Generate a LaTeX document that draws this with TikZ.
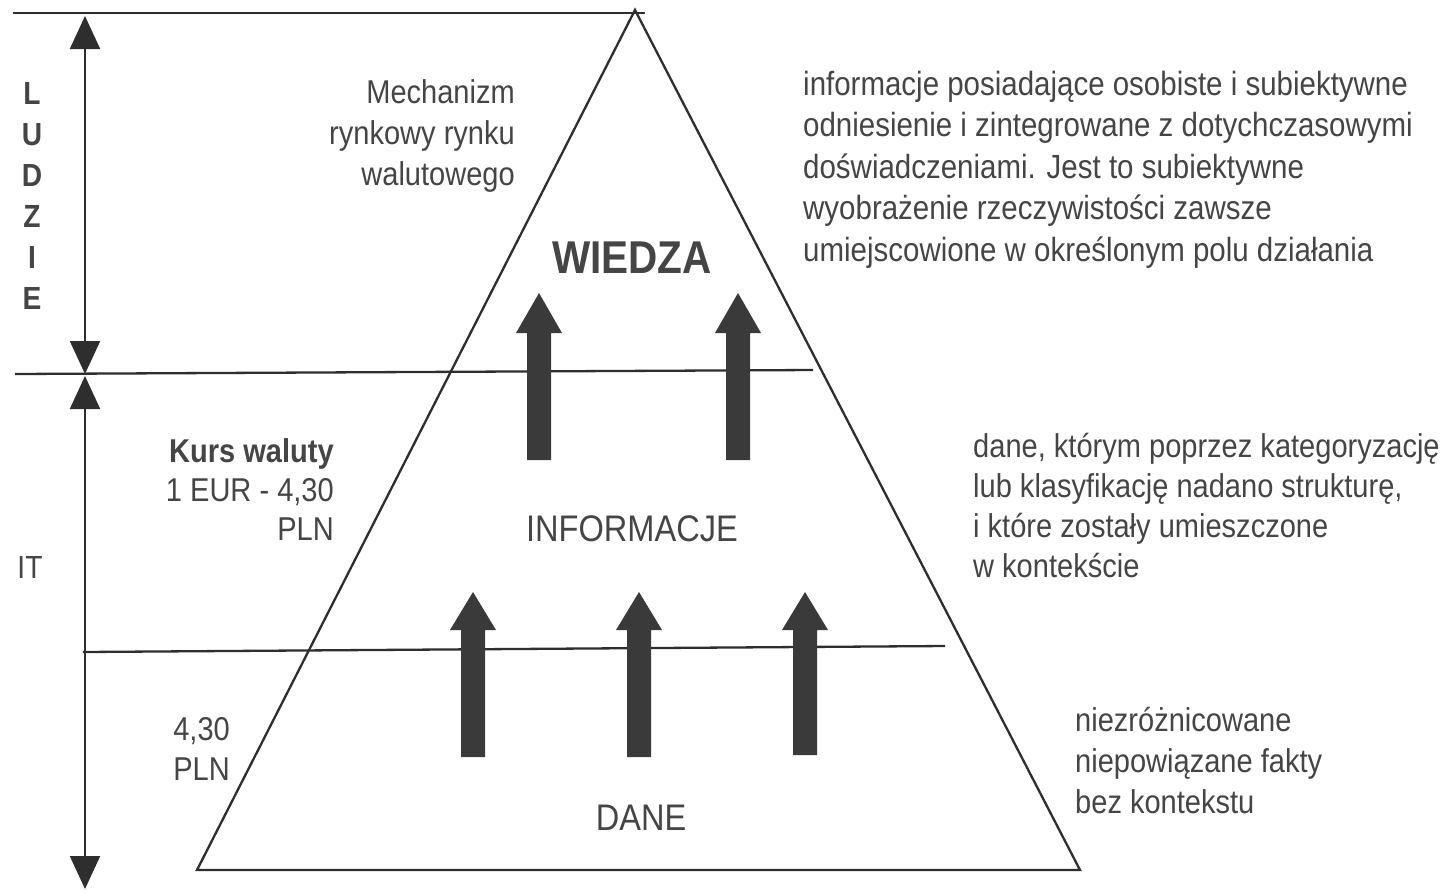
\documentclass[tikz,border=0pt]{standalone}
\usepackage{fontspec}
\setmainfont{Liberation Sans}[FakeStretch=0.88]
\usetikzlibrary{arrows.meta}
\definecolor{ink}{HTML}{2E2E2E}
\definecolor{txt}{HTML}{454545}
\definecolor{bigarrow}{HTML}{3A3A3A}
\tikzset{
  rule/.style={draw=ink, line width=2.3pt},
  dimline/.style={draw=ink, line width=2pt, {Triangle[width=30pt,length=33pt]}-{Triangle[width=30pt,length=33pt]}},
  txtR/.style={inner sep=0pt, text=txt, align=right, anchor=north east},
  txtL/.style={inner sep=0pt, text=txt, align=left, anchor=north west},
  lvl/.style={inner sep=0pt, text=txt, font=\fontsize{37}{40}\selectfont},
  uparrow/.style={fill=bigarrow, draw=none}
}
\begin{document}
\begin{tikzpicture}[x=1pt,y=-1pt]
\useasboundingbox (0,0) rectangle (1455,892);
\fill[white] (0,0) rectangle (1455,892);

% coordinates
\coordinate (apex) at (635,10);
\coordinate (bl) at (197,870);
\coordinate (br) at (1080,870);
\coordinate (t1) at (13,13);  \coordinate (t2) at (645,13);
\coordinate (m1) at (15,374); \coordinate (m2) at (813,370);
\coordinate (l1) at (83,652); \coordinate (l2) at (945,646);
\coordinate (a1) at (85,16);  \coordinate (a2) at (85,374);
\coordinate (b1) at (85,376); \coordinate (b2) at (85,889);

% pyramid and rules
\draw[rule, line join=miter] (apex) -- (br) -- (bl) -- cycle;
\draw[rule] (t1) -- (t2);
\draw[rule] (m1) -- (m2);
\draw[rule] (l1) -- (l2);

% dimension arrows
\draw[dimline] (a1) -- (a2);
\draw[dimline] (b1) -- (b2);

% big arrows
\foreach \cx/\ty/\hy/\by in {539/293/333/460, 738/293/333/460, 473/592/630/757, 639/592/630/757, 805/592/630/755}{
  \fill[uparrow] (\cx,\ty) -- (\cx+23,\hy) -- (\cx+12,\hy) -- (\cx+12,\by) -- (\cx-12,\by) -- (\cx-12,\hy) -- (\cx-23,\hy) -- cycle;
}

% left labels
\node[inner sep=0pt, text=txt, align=center, font=\bfseries\fontsize{32}{41}\selectfont] (ludzie) at (32,196) {L\\U\\D\\Z\\I\\E};
\node[inner sep=0pt, text=txt, font=\fontsize{32}{38}\selectfont] (it) at (30,567) {IT};

% pyramid labels
\node[lvl, font=\bfseries\fontsize{46}{50}\selectfont] (wiedza) at (632,258) {WIEDZA};
\node[lvl] (informacje) at (632,529) {INFORMACJE};
\node[lvl] (dane) at (641,818) {DANE};

% side notes left
\node[txtR, font=\fontsize{33}{41}\selectfont] (mech) at (515,79) {Mechanizm\\rynkowy rynku\\walutowego};
\node[txtR, font=\fontsize{33}{39}\selectfont] (kurs) at (334,438) {\textbf{Kurs waluty}\\1 EUR - 4,30\\PLN};
\node[txtR, font=\fontsize{33}{40}\selectfont] (pln) at (230,717) {4,30\\PLN};

% side notes right
\node[txtL, font=\fontsize{33.5}{41.5}\selectfont] (descW) at (803,71) {informacje posiadające osobiste i subiektywne\\odniesienie i zintegrowane z dotychczasowymi\\doświadczeniami. Jest to subiektywne\\wyobrażenie rzeczywistości zawsze\\umiejscowione w określonym polu działania};
\node[txtL, font=\fontsize{33}{40}\selectfont] (descI) at (973,433) {dane, którym poprzez kategoryzację\\lub klasyfikację nadano strukturę,\\i które zostały umieszczone\\w kontekście};
\node[txtL, font=\fontsize{33}{41}\selectfont] (descD) at (1075,707) {niezróżnicowane\\niepowiązane fakty\\bez kontekstu};
\end{tikzpicture}
\end{document}
